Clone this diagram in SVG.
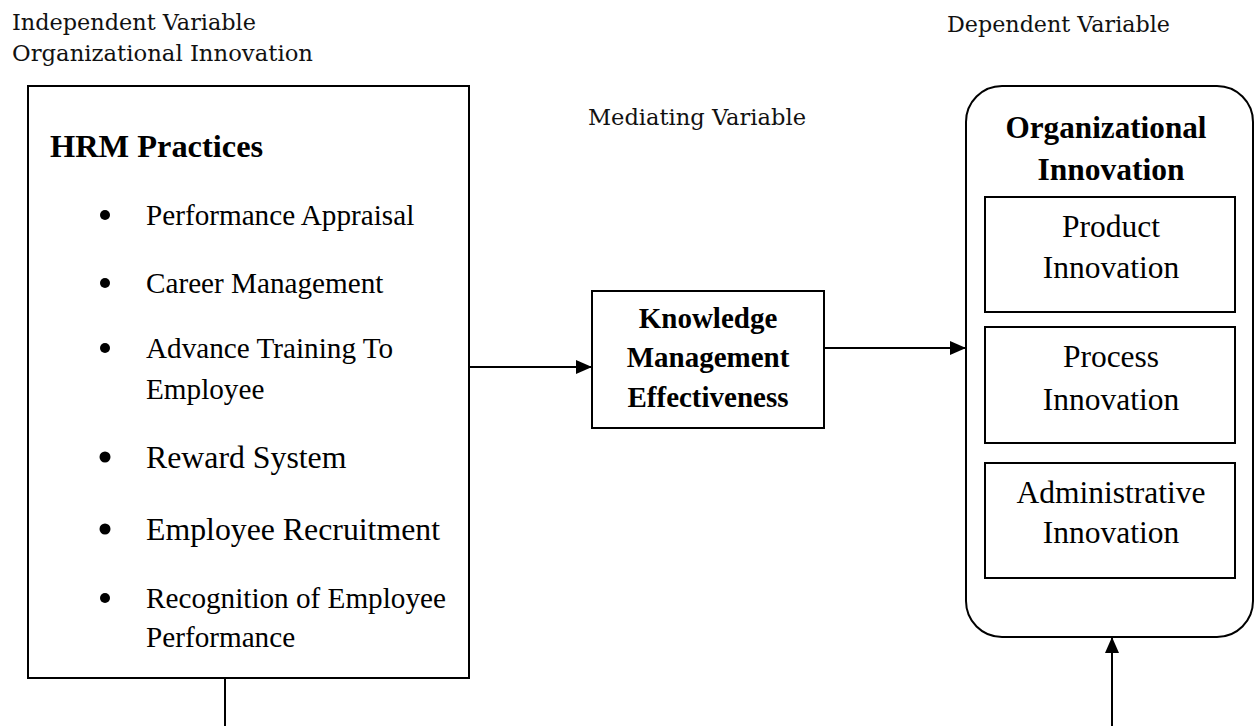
<svg xmlns="http://www.w3.org/2000/svg" width="1254" height="726" viewBox="0 0 1254 726">
  <style>
    .hdr { font-family: "DejaVu Serif", "Liberation Serif", serif; font-size: 21.5px; fill: #111; }
    .box { fill: #fff; stroke: #000; stroke-width: 2; }
    .line { fill: none; stroke: #000; stroke-width: 2; }
    .tx { font-family: "Liberation Serif", "Times New Roman", serif; fill: #000; }
    .b { font-weight: bold; }
    .mid { text-anchor: middle; }
  </style>
  <defs>
    <marker id="arrow" viewBox="0 0 16 14" refX="16" refY="7" markerWidth="16" markerHeight="14" markerUnits="userSpaceOnUse" orient="auto">
      <path d="M0,0 L16,7 L0,14 Z" fill="#000"/>
    </marker>
  </defs>
  <rect width="1254" height="726" fill="#fff"/>

  <!-- column headings -->
  <g id="headings">
    <text class="hdr" x="12" y="30" textLength="244" lengthAdjust="spacingAndGlyphs">Independent Variable</text>
    <text class="hdr" x="12" y="61" textLength="301" lengthAdjust="spacingAndGlyphs">Organizational Innovation</text>
    <text class="hdr" x="588" y="125" textLength="218" lengthAdjust="spacingAndGlyphs">Mediating Variable</text>
    <text class="hdr" x="947" y="32" textLength="223" lengthAdjust="spacingAndGlyphs">Dependent Variable</text>
  </g>

  <!-- independent variable: HRM practices -->
  <g id="hrm-practices">
    <rect class="box" x="28" y="86" width="441" height="592"/>
    <text class="tx b" x="50" y="157" font-size="32.4">HRM Practices</text>
    <g fill="#000">
      <circle cx="105" cy="215" r="5"/>
      <circle cx="105" cy="283" r="5"/>
      <circle cx="105" cy="348" r="5"/>
      <circle cx="105" cy="457" r="5.5"/>
      <circle cx="105" cy="529" r="5.5"/>
      <circle cx="105" cy="598" r="5"/>
    </g>
    <g class="tx" font-size="29.2">
      <text x="146" y="225">Performance Appraisal</text>
      <text x="146" y="293">Career Management</text>
      <text x="146" y="358">Advance Training To</text>
      <text x="146" y="399">Employee</text>
      <text x="146" y="468" font-size="31.8">Reward System</text>
      <text x="146" y="540" font-size="31.8">Employee Recruitment</text>
      <text x="146" y="608">Recognition of Employee</text>
      <text x="146" y="647">Performance</text>
    </g>
  </g>

  <!-- mediating variable -->
  <g id="km-effectiveness">
    <rect class="box" x="592" y="291" width="232" height="137"/>
    <g class="tx b mid" font-size="29">
      <text x="708" y="328">Knowledge</text>
      <text x="708" y="367">Management</text>
      <text x="708" y="407">Effectiveness</text>
    </g>
  </g>

  <!-- dependent variable -->
  <g id="organizational-innovation">
    <rect class="box" x="966" y="86" width="287" height="551" rx="36" ry="36"/>
    <text class="tx b mid" x="1106" y="138" font-size="31.2">Organizational</text>
    <text class="tx b mid" x="1111" y="180" font-size="31.5">Innovation</text>
  </g>
  <g id="product-innovation">
    <rect class="box" x="985" y="197" width="250" height="115"/>
    <text class="tx mid" x="1111" y="237" font-size="31.5">Product</text>
    <text class="tx mid" x="1111" y="278" font-size="31.5">Innovation</text>
  </g>
  <g id="process-innovation">
    <rect class="box" x="985" y="327" width="250" height="116"/>
    <text class="tx mid" x="1111" y="367" font-size="31.5">Process</text>
    <text class="tx mid" x="1111" y="410" font-size="31.5">Innovation</text>
  </g>
  <g id="administrative-innovation">
    <rect class="box" x="985" y="463" width="250" height="115"/>
    <text class="tx mid" x="1111" y="503" font-size="31.5">Administrative</text>
    <text class="tx mid" x="1111" y="543" font-size="31.5">Innovation</text>
  </g>

  <!-- connectors -->
  <g id="connectors">
    <line class="line" x1="469" y1="367" x2="592" y2="367" marker-end="url(#arrow)"/>
    <line class="line" x1="824" y1="348" x2="966" y2="348" marker-end="url(#arrow)"/>
    <line class="line" x1="225" y1="678" x2="225" y2="726"/>
    <line class="line" x1="1112" y1="726" x2="1112" y2="637" marker-end="url(#arrow)"/>
  </g>
</svg>
